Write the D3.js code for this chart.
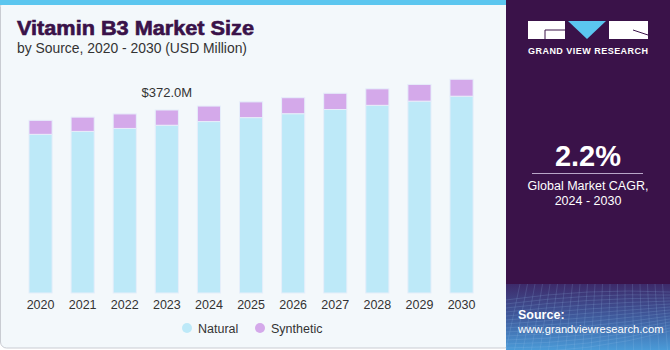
<!DOCTYPE html>
<html><head><meta charset="utf-8">
<script src="https://cdn.jsdelivr.net/npm/d3@7/dist/d3.min.js"></script>
<style>body{margin:0;background:#fff;}svg{display:block;font-family:"Liberation Sans",Arial,sans-serif;}</style>
</head><body>
<script>
const years = ["2020","2021","2022","2023","2024","2025","2026","2027","2028","2029","2030"];
const natural = [322.5, 328.5, 334.5, 341.0, 348.5, 356.5, 364.5, 373.0, 381.5, 390.0, 400.0];
const synthetic = [28.5, 29.0, 29.5, 31.0, 31.5, 32.0, 32.5, 33.0, 33.5, 34.0, 34.5];
const seriesNames = ["Natural", "Synthetic"];
const seriesColors = ["#bde9f8", "#d4a9ea"];
const annotationYear = "2023";
const annotationText = "$372.0M";
const cagrValue = "2.2%";
const cagrLines = ["Global Market CAGR,", "2024 - 2030"];

const W = 670, H = 350;
const svg = d3.select("body").append("svg").attr("width", W).attr("height", H);
const defs = svg.append("defs");

// left panel
svg.append("rect").attr("x",0.5).attr("y",0.5).attr("width",510).attr("height",347.5)
  .attr("rx",6).attr("fill","#f3f8fb").attr("stroke","#c9ccd2");
svg.append("rect").attr("x",0).attr("y",0).attr("width",506).attr("height",5).attr("fill","#5bc6ef");

// right panel
svg.append("rect").attr("x",506).attr("y",0).attr("width",164).attr("height",350).attr("fill","#3a1249");

// title
svg.append("text").attr("x",17).attr("y",35).text("Vitamin B3 Market Size")
  .attr("font-size",19.5).attr("font-weight",900).attr("fill","#3a1249")
  .attr("textLength",237).attr("lengthAdjust","spacingAndGlyphs").attr("stroke","#3a1249").attr("stroke-width",0.6);
svg.append("text").attr("x",17).attr("y",53).text("by Source, 2020 - 2030 (USD Million)")
  .attr("font-size",14).attr("fill","#333").attr("textLength",230).attr("lengthAdjust","spacingAndGlyphs");

// scales
const x = d3.scaleBand().domain(years).range([19.5, 482.6]).paddingInner(0.45).paddingOuter(0.225);
const y = d3.scaleLinear().domain([0, 450]).range([293, 293 - 450*183/372]);

const data = years.map((yr,i)=>({year:yr, Natural:natural[i], Synthetic:synthetic[i]}));
const stack = d3.stack().keys(seriesNames)(data);

const g = svg.append("g");
g.selectAll("g.s").data(stack).join("g").attr("fill",(d,i)=>seriesColors[i])
  .selectAll("rect").data(d=>d).join("rect")
  .attr("x",d=>x(d.data.year)).attr("width",x.bandwidth())
  .attr("y",d=>y(d[1])).attr("height",d=>y(d[0])-y(d[1]))
  .attr("stroke","#e6eefa").attr("stroke-width",1);

// annotation
const ai = years.indexOf(annotationYear);
svg.append("text").attr("x",x(annotationYear)+x.bandwidth()/2).attr("y",y(natural[ai]+synthetic[ai])-13)
  .attr("text-anchor","middle").attr("font-size",13).attr("fill","#333").text(annotationText);

// x axis
const xa = svg.append("g").attr("transform","translate(0,293)")
  .call(d3.axisBottom(x).tickSize(0).tickPadding(4));
xa.select(".domain").remove();
xa.selectAll("text").attr("font-size",12.5).attr("fill","#333").attr("dy","0.95em").style("font-family","'Liberation Sans',Arial,sans-serif");

// legend
const leg = svg.append("g");
const legX = [187, 260];
seriesNames.forEach((n,i)=>{
  leg.append("circle").attr("cx",legX[i]).attr("cy",328).attr("r",5).attr("fill",seriesColors[i]);
  leg.append("text").attr("x",legX[i]+11).attr("y",332.5).attr("font-size",12.5).attr("fill","#333").text(n);
});

// logo
const lg = svg.append("g");
lg.append("rect").attr("x",528).attr("y",21).attr("width",37).attr("height",18).attr("fill","#fff");
lg.append("path").attr("d","M545,39 V30 H565").attr("fill","none").attr("stroke","#3a1249").attr("stroke-width",1);
lg.append("path").attr("d","M568,21 H606 L587,39 Z").attr("fill","#5bc6ef");
lg.append("rect").attr("x",609).attr("y",21).attr("width",39).attr("height",18).attr("fill","#fff");
lg.append("path").attr("d","M633,30 L648,35").attr("fill","none").attr("stroke","#3a1249").attr("stroke-width",1);
svg.append("text").attr("x",528).attr("y",54).attr("font-size",9).attr("font-weight","bold").attr("fill","#fff")
  .attr("textLength",120).attr("lengthAdjust","spacing").text("GRAND VIEW RESEARCH");

// CAGR
svg.append("text").attr("x",588).attr("y",166).attr("text-anchor","middle").attr("font-size",29).attr("font-weight","bold").attr("fill","#fff").text(cagrValue);
svg.append("line").attr("x1",532).attr("x2",643).attr("y1",173.5).attr("y2",173.5).attr("stroke","#b9a6c8").attr("stroke-width",1);
cagrLines.forEach((t,i)=>{
  svg.append("text").attr("x",588).attr("y",190+i*14.5).attr("text-anchor","middle").attr("font-size",12.5).attr("fill","#fff").text(t);
});

// source box
const grad = defs.append("linearGradient").attr("id","sg").attr("x1",0).attr("y1",0).attr("x2",0).attr("y2",1);
grad.append("stop").attr("offset","0%").attr("stop-color","#3d2a6a");
grad.append("stop").attr("offset","50%").attr("stop-color","#3f5a9c");
grad.append("stop").attr("offset","100%").attr("stop-color","#4a9bd8");
svg.append("rect").attr("x",506).attr("y",284).attr("width",164).attr("height",66).attr("fill","url(#sg)");
const mesh = svg.append("g").attr("stroke","#9ec6ee").attr("stroke-opacity",0.25).attr("fill","none").attr("stroke-width",0.7);
for(let k=0;k<14;k++){
  mesh.append("path").attr("d",`M506,${300+k*4} Q588,${288+k*5} 670,${292+k*3}`);
}
for(let k=0;k<20;k++){
  mesh.append("path").attr("d",`M${506+k*8.5},350 L${520+k*7.5},284`);
}
svg.append("text").attr("x",518).attr("y",319).attr("font-size",12.5).attr("font-weight","bold").attr("fill","#fff").text("Source:");
svg.append("text").attr("x",518).attr("y",333).attr("font-size",11.2).attr("fill","#fff").text("www.grandviewresearch.com");
</script>
</body></html>
